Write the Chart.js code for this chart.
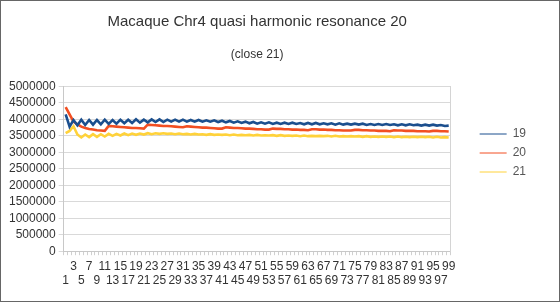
<!DOCTYPE html>
<html>
<head>
<meta charset="utf-8">
<script src="https://cdn.jsdelivr.net/npm/chart.js@4"></script>
<style>
  html, body { margin: 0; padding: 0; background: #fff; }
  #wrap { width: 560px; height: 302px; }
</style>
</head>
<body>
<div id="wrap"><canvas id="chart" width="560" height="302"></canvas></div>
<script>
const positions = [];
for (let i = 1; i <= 99; i++) positions.push(i);

const series19 = [
  4150000, 3780000, 3980000, 3820000, 3990000, 3830000, 3980000, 3840000, 3980000, 3850000,
  3990000, 3860000, 3980000, 3870000, 3990000, 3880000, 3990000, 3890000, 4000000, 3900000,
  3990000, 3910000, 4000000, 3920000, 4000000, 3920000, 3990000, 3930000, 3990000, 3930000,
  3990000, 3930000, 3980000, 3930000, 3980000, 3930000, 3970000, 3930000, 3970000, 3920000,
  3960000, 3910000, 3950000, 3900000, 3940000, 3890000, 3930000, 3880000, 3920000, 3870000,
  3910000, 3870000, 3910000, 3860000, 3900000, 3860000, 3900000, 3860000, 3900000, 3860000,
  3890000, 3850000, 3890000, 3850000, 3890000, 3850000, 3880000, 3850000, 3880000, 3840000,
  3880000, 3840000, 3870000, 3840000, 3870000, 3840000, 3870000, 3830000, 3860000, 3830000,
  3860000, 3830000, 3860000, 3830000, 3850000, 3820000, 3850000, 3820000, 3850000, 3820000,
  3840000, 3810000, 3840000, 3810000, 3840000, 3810000, 3830000, 3800000, 3810000
];

const series20 = [
  4370000, 4150000, 3930000, 3850000, 3780000, 3740000, 3710000, 3690000, 3670000, 3660000,
  3650000, 3800000, 3790000, 3780000, 3770000, 3760000, 3750000, 3740000, 3740000, 3730000,
  3720000, 3840000, 3830000, 3820000, 3810000, 3800000, 3800000, 3790000, 3780000, 3770000,
  3760000, 3790000, 3780000, 3770000, 3760000, 3750000, 3750000, 3740000, 3730000, 3720000,
  3720000, 3760000, 3750000, 3740000, 3740000, 3730000, 3720000, 3720000, 3710000, 3700000,
  3700000, 3690000, 3690000, 3720000, 3710000, 3710000, 3700000, 3700000, 3690000, 3690000,
  3680000, 3680000, 3670000, 3700000, 3700000, 3690000, 3690000, 3680000, 3680000, 3670000,
  3670000, 3660000, 3660000, 3660000, 3680000, 3680000, 3670000, 3670000, 3660000, 3660000,
  3650000, 3650000, 3650000, 3640000, 3670000, 3660000, 3660000, 3650000, 3650000, 3650000,
  3640000, 3640000, 3640000, 3630000, 3650000, 3650000, 3640000, 3640000, 3630000
];

const series21 = [
  3580000, 3650000, 3790000, 3540000, 3450000, 3540000, 3460000, 3550000, 3470000, 3550000,
  3480000, 3560000, 3500000, 3560000, 3510000, 3570000, 3520000, 3570000, 3530000, 3570000,
  3540000, 3580000, 3550000, 3580000, 3560000, 3580000, 3560000, 3570000, 3550000, 3570000,
  3550000, 3560000, 3540000, 3560000, 3540000, 3550000, 3530000, 3550000, 3530000, 3540000,
  3530000, 3540000, 3520000, 3540000, 3520000, 3530000, 3520000, 3530000, 3510000, 3530000,
  3510000, 3520000, 3510000, 3520000, 3500000, 3520000, 3500000, 3510000, 3500000, 3510000,
  3490000, 3510000, 3490000, 3500000, 3490000, 3500000, 3490000, 3500000, 3480000, 3500000,
  3480000, 3490000, 3480000, 3490000, 3480000, 3490000, 3470000, 3490000, 3470000, 3480000,
  3470000, 3480000, 3470000, 3480000, 3460000, 3480000, 3460000, 3470000, 3460000, 3470000,
  3460000, 3470000, 3460000, 3470000, 3450000, 3470000, 3450000, 3460000, 3450000
];

const seriesNames = ["19", "20", "21"];
const seriesColors = ["#1b4f8e", "#f24f22", "#ffd23a"];

const font = "'Liberation Sans', Arial, sans-serif";

// thin frame round the whole picture
const framePlugin = {
  id: 'frame',
  afterDraw(chart) {
    const ctx = chart.ctx;
    ctx.save();
    ctx.strokeStyle = '#666';
    ctx.lineWidth = 1;
    ctx.strokeRect(0.5, 0.5, chart.width - 1, chart.height - 1);
    ctx.restore();
  }
};

new Chart(document.getElementById("chart"), {
  type: 'line',
  data: {
    labels: positions,
    datasets: [
      { label: seriesNames[0], data: series19, borderColor: seriesColors[0], backgroundColor: seriesColors[0] },
      { label: seriesNames[1], data: series20, borderColor: seriesColors[1], backgroundColor: seriesColors[1] },
      { label: seriesNames[2], data: series21, borderColor: seriesColors[2], backgroundColor: seriesColors[2] }
    ]
  },
  options: {
    responsive: false,
    animation: false,
    events: [],
    elements: {
      line: { borderWidth: 2.6, tension: 0 },
      point: { radius: 0 }
    },
    layout: { padding: { left: 6, right: 24, top: 4, bottom: 0 } },
    plugins: {
      title: {
        display: true,
        text: 'Macaque Chr4 quasi harmonic resonance 20',
        fullSize: false,
        color: '#333',
        font: { family: font, size: 15, weight: 'normal' },
        padding: { top: 9, bottom: 8 }
      },
      subtitle: {
        display: true,
        text: '(close 21)',
        fullSize: false,
        color: '#333',
        font: { family: font, size: 12, weight: 'normal' },
        padding: { top: 8, bottom: 25 }
      },
      legend: {
        position: 'right',
        labels: {
          usePointStyle: true,
          pointStyle: 'line',
          pointStyleWidth: 27,
          color: '#555',
          font: { family: font, size: 12 },
          padding: 7
        }
      },
      tooltip: { enabled: false }
    },
    scales: {
      x: {
        offset: true,
        afterFit: function (scale) { scale.height += 10; },
        grid: { drawOnChartArea: false, offset: true, tickLength: 4, color: '#d0d0d0' },
        border: { color: '#c8c8c8' },
        ticks: {
          autoSkip: false,
          maxRotation: 0,
          padding: 4,
          color: '#333',
          font: { family: font, size: 12 },
          callback: function (value, index) {
            const lab = positions[index];
            if (index % 4 === 0) return ['', String(lab)];
            if (index % 4 === 2) return [String(lab)];
            return '';
          }
        }
      },
      y: {
        min: 0,
        max: 5000000,
        grid: { color: '#d9d9d9', tickLength: 5 },
        border: { color: '#c8c8c8' },
        ticks: {
          stepSize: 500000,
          autoSkip: false,
          padding: 3,
          color: '#333',
          font: { family: font, size: 12 },
          callback: function (value) { return String(value); }
        }
      },
      yRight: {
        position: 'right',
        afterFit: function (scale) { scale.width = 22; },
        grid: { drawOnChartArea: false, drawTicks: false },
        border: { color: '#d4d4d4' },
        ticks: { display: false }
      }
    }
  },
  plugins: [framePlugin]
});
</script>
</body>
</html>
